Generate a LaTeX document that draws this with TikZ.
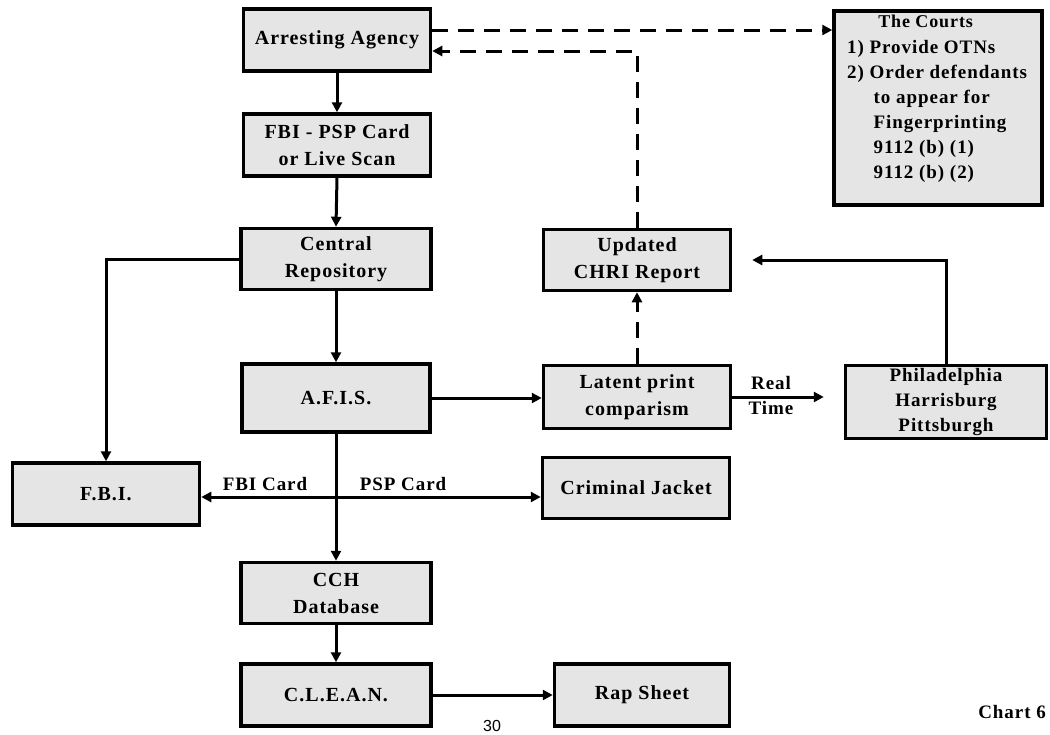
\documentclass[tikz,border=0pt]{standalone}
\usepackage{fontspec}
\setmainfont{Liberation Serif}
\newfontfamily\boxfont{Liberation Serif}[LetterSpace=5]
\newfontfamily\pagefont{Liberation Sans}
\usetikzlibrary{arrows.meta}
\begin{document}
\begin{tikzpicture}[x=1pt,y=-1pt,
  box/.style={draw=black, line width=3.5pt, fill=black!10, inner sep=0pt, align=center,
    font=\boxfont\fontsize{20}{27}\selectfont\bfseries},
  conn/.style={line width=3pt, -{Triangle[length=10pt,width=10pt]}},
  dconn/.style={conn, dash pattern=on 16pt off 10pt},
  lbl/.style={font=\boxfont\fontsize{19}{22}\selectfont\bfseries, inner sep=1pt}]
\useasboundingbox (0,0) rectangle (1050,734);
% boxes
\node[box, minimum width=187, minimum height=62] (agency) at (337,40) {Arresting Agency};
\node[box, minimum width=187, minimum height=62] (card) at (337,145) {FBI - PSP Card\\or Live Scan};
\node[box, minimum width=190, minimum height=61] (central) at (336,259) {Central\\Repository};
\node[box, minimum width=188, minimum height=68] (afis) at (336,398) {A.F.I.S.};
\node[box, minimum width=187, minimum height=62] (fbi) at (106,494) {F.B.I.};
\node[box, minimum width=187, minimum height=61] (jacket) at (636,488) {Criminal Jacket};
\node[box, minimum width=190, minimum height=61] (cch) at (336,593) {CCH\\Database};
\node[box, minimum width=190, minimum height=62] (clean) at (336,695) {C.L.E.A.N.};
\node[box, minimum width=175, minimum height=62] (rap) at (642,695) {Rap Sheet};
\node[box, minimum width=187, minimum height=61] (chri) at (637,260) {Updated\\CHRI Report};
\node[box, minimum width=187, minimum height=63] (latent) at (637,397) {Latent print\\comparism};
\node[box, minimum width=201, minimum height=73, font=\boxfont\fontsize{19}{25}\selectfont\bfseries] (phil) at (946,402) {Philadelphia\\Harrisburg\\Pittsburgh};
\node[box, minimum width=208, minimum height=194, anchor=north] (courts) at (938,9) {};
\node[font=\boxfont\fontsize{19}{25}\selectfont\bfseries, anchor=north, inner sep=0pt] (courtstext) at (937,10)
  {\begin{tabular}{@{}l@{}}\multicolumn{1}{c}{\hspace*{-1.2em}\fontsize{18}{25}\selectfont The Courts}\\[1pt]1) Provide OTNs\\2) Order defendants\\\hspace*{1.4em}to appear for\\\hspace*{1.4em}Fingerprinting\\\hspace*{1.4em}9112 (b) (1)\\\hspace*{1.4em}9112 (b) (2)\end{tabular}};
% connectors
\draw[conn] (agency.south) -- (card.north);
\draw[conn] (card.south) -- (central.north);
\draw[conn] (central.south) -- (afis.north);
\draw[conn] (central.west) -| (fbi.north);
\draw[conn] (afis.east) -- (afis.east -| latent.west);
\draw[conn] (afis.south) -- (cch.north);
\coordinate (j) at (336,497);
\draw[conn] (j) -- (j -| fbi.east);
\draw[conn] (j) -- (j -| jacket.west);
\draw[conn] (cch.south) -- (clean.north);
\draw[conn] (clean.east) -- (rap.west);
\draw[conn, shorten >=20pt] (latent.east) -- (latent.east -| phil.west);
\draw[conn, shorten >=20pt] (phil.north) |- (chri.east);
\draw[dconn] (latent.north) -- (chri.south);
\draw[dconn] (chri.north) |- ([yshift=-11pt]agency.east);
\draw[dconn] ([yshift=10pt]agency.east) -- ([yshift=10pt]agency.east -| courts.west);
% labels
\node[lbl] (lfbi) at (265,484) {FBI Card};
\node[lbl] (lpsp) at (403,484) {PSP Card};
\node[lbl] (lreal) at (771,383) {Real};
\node[lbl] (ltime) at (771,408) {Time};
\node[lbl, anchor=east] (chart) at (1047,712) {Chart 6};
\node[font=\pagefont\fontsize{16}{18}\selectfont, anchor=north, inner sep=0pt] (page) at (492,720) {30};
\end{tikzpicture}
\end{document}
